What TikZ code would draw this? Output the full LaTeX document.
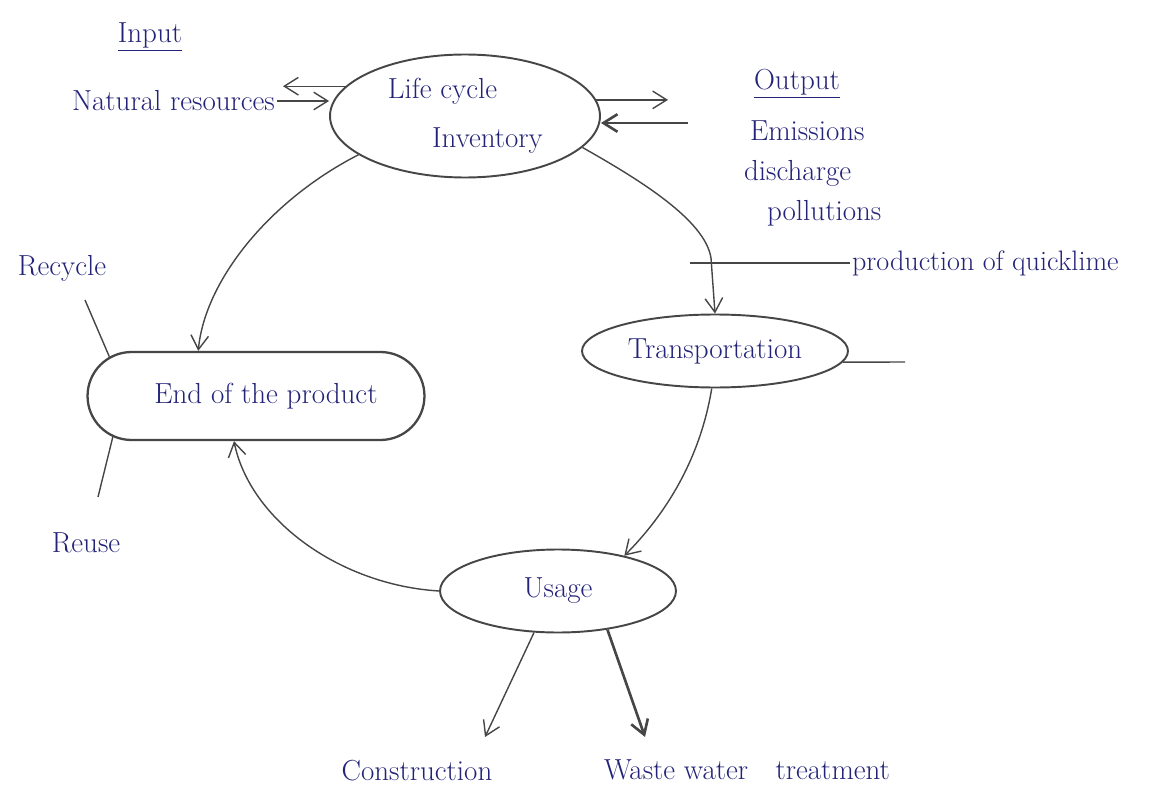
\documentclass[tikz,border=0pt]{standalone}
\usetikzlibrary{arrows.meta,shapes.geometric,shapes.misc,calc}
\definecolor{ink}{RGB}{35,35,120}
\definecolor{pencil}{RGB}{70,70,70}
\begin{document}
\begin{tikzpicture}[x=0.02cm,y=-0.02cm,
  hand/.style={font=\fontsize{16.5}{19}\selectfont},
  txt/.style={text=ink,hand,inner sep=1pt},
  oval/.style={draw=pencil,line width=1.1pt,ellipse,inner sep=0pt,text=ink,
    hand,align=center},
  stadium/.style={draw=pencil,line width=1.3pt,rounded rectangle,inner sep=0pt,
    text=ink,hand},
  link/.style={draw=pencil,line width=0.8pt},
  arr/.style={link,-{Straight Barb[length=8pt,width=10pt]}}]
\useasboundingbox (0,0) rectangle (1152,804);

% main nodes
\node[oval,minimum width=5.4cm,minimum height=2.46cm] (lci) at (465,116)
  {\hspace*{-0.9cm}Life cycle\\[9pt]\hspace*{0.9cm}Inventory};
\node[oval,minimum width=5.32cm,minimum height=1.46cm] (trans) at (715,351) {Transportation};
\node[stadium,minimum width=6.74cm,minimum height=1.76cm] (eop) at (256,396)
  {\hspace*{0.4cm}End of the product};
\node[oval,minimum width=4.72cm,minimum height=1.66cm] (use) at (558,591) {Usage};

% texts
\node[txt] (input) at (150,37) {\underline{Input}};
\node[txt,anchor=east] (natres) at (277,101) {Natural resources};
\node[txt] (out) at (797,84) {\underline{Output}};
\node[txt,anchor=west] (em) at (748,131) {Emissions};
\node[txt,anchor=west] (dis) at (742,173) {discharge};
\node[txt,anchor=west] (pol) at (765,213) {pollutions};
\node[txt,anchor=west,font=\fontsize{16}{19}\selectfont] (quick) at (850,263) {production of quicklime};
\node[txt] (rec) at (62,268) {Recycle};
\node[txt] (reu) at (86,543) {Reuse};
\node[txt] (con) at (417,771) {Construction};
\node[txt] (wwt) at (747,770) {Waste water\hspace{0.55cm}treatment};

% free ends
\coordinate (inTip) at (283,88);
\coordinate (outR) at (668,100);
\coordinate (outL) at (688,123);
\coordinate (qL) at (690,263);
\coordinate (tR) at (905,362);
\coordinate (bendT) at (711,258);
\coordinate (recA) at (85,300);
\coordinate (reuA) at (98,497);
\coordinate (cTip) at (485,737);
\coordinate (wTip) at (645,737);

% input / output arrows
\draw[arr] (lci.166) -- (lci.166 -| inTip);
\draw[arr] (natres.east) -- (natres.east -| lci.west);
\draw[arr] (lci.7) -- (lci.7 -| outR);
\draw[arr,line width=1.5pt] (outL) -- (outL -| lci.east);

% cycle
\draw[arr] (lci.-15) .. controls (640,180) and (705,220) .. (bendT) -- (trans.north);
\draw[link] (qL) -- (qL -| quick.west);
\draw[link] (trans.-5) -- (tR);
\draw[arr] (trans.-95) .. controls (700,460) and (665,515) .. (use.28);
\draw[arr] (use.west) .. controls (340,585) and (250,520) .. (eop.244);
\draw[arr] (lci.200) .. controls (270,200) and (205,280) .. (eop.142);

% end of product branches
\draw[link] (recA) -- (eop.165);
\draw[link] (eop.196) -- (reuA);

% usage outputs
\draw[arr] (use.240) -- (cTip);
\draw[arr,line width=1.5pt] (use.-38) -- (wTip);
\end{tikzpicture}
\end{document}
